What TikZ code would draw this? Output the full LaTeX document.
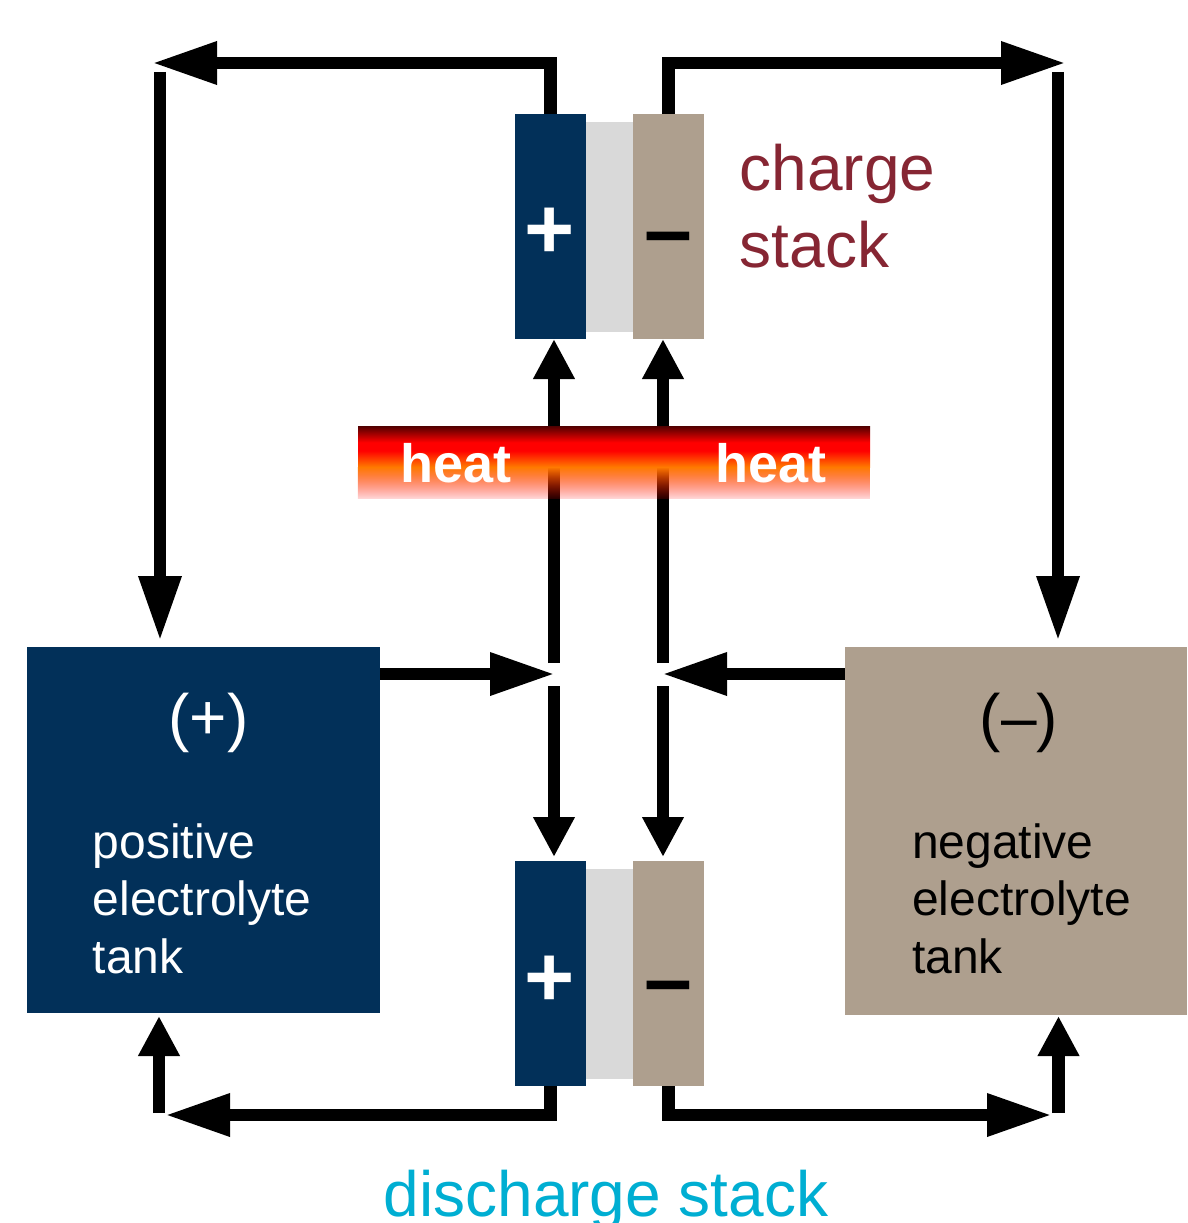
\documentclass[tikz,border=0pt]{standalone}
\usepackage{fontspec}
\setmainfont{Liberation Sans}
\usepackage{xcolor}
\usetikzlibrary{positioning, arrows.meta, fadings}

\definecolor{stackblue}{RGB}{2,48,89}
\definecolor{stacktan}{RGB}{174,159,142}
\definecolor{membranegray}{RGB}{217,217,217}
\definecolor{chargered}{RGB}{134,38,51}
\definecolor{dischargecyan}{RGB}{0,174,210}
\definecolor{heatdark}{RGB}{80,0,0}
\definecolor{heatred}{RGB}{255,0,0}
\definecolor{heatorange}{RGB}{255,122,0}

\pgfdeclareverticalshading{heatglow}{100bp}{
    color(0bp)=(heatorange); color(25bp)=(heatorange); color(45bp)=(heatred);
    color(55bp)=(heatred); color(75bp)=(heatdark); color(100bp)=(heatdark)}
\tikzfading[name=heatfade, top color=transparent!0, bottom color=transparent!85]

\begin{document}
\begin{tikzpicture}[
    x=1pt, y=-1pt,
    plate/.style={
        minimum width=71pt,
        minimum height=225pt,
        inner sep=0pt,
        outer sep=0pt
    },
    membrane/.style={
        fill=membranegray,
        minimum width=47pt,
        minimum height=210pt,
        inner sep=0pt,
        outer sep=0pt
    },
    tank/.style={inner sep=0pt, outer sep=0pt, anchor=north west},
    sign/.style={font=\fontsize{86}{86}\selectfont\bfseries, inner sep=0pt},
    tanksign/.style={font=\fontsize{64}{64}\selectfont, inner sep=0pt, anchor=base},
    tanktext/.style={font=\fontsize{48}{57.5}\selectfont, align=left, inner sep=0pt, anchor=base west},
    heattext/.style={font=\fontsize{54}{54}\selectfont\bfseries, text=white, inner sep=0pt, anchor=base},
    pipe/.style={line width=12.5pt},
    flow/.style={pipe, -{Triangle[length=65pt, width=40pt]}},
    feed/.style={pipe, -{Triangle[length=40pt, width=39pt]}}
]
\useasboundingbox (0,0) rectangle (1187,1223);

% --- tanks ---
\node[tank, fill=stackblue, minimum width=353pt, minimum height=366pt] (postank) at (27,647) {};
\node[tank, fill=stacktan, minimum width=342pt, minimum height=368pt] (negtank) at (845,647) {};

\node[tanksign, text=white] (possign) at (208.5,739) {(+)};
\node[tanktext, text=white] (poslabel) at (92.5,973) {positive\\electrolyte\\tank};
\node[tanksign] (negsign) at (1019,739) {(–)};
\node[tanktext] (neglabel) at (912,973) {negative\\electrolyte\\tank};

% --- charge stack ---
\node[plate, fill=stackblue, anchor=north west] (cplus) at (515,114) {};
\node[membrane, right=0pt of cplus] (cmem) {};
\node[plate, fill=stacktan, right=0pt of cmem] (cminus) {};
\node[sign, text=white] (cplussign) at (550,233) {+};
\node[sign] (cminussign) at (668,246) {–};

\node[font=\fontsize{64}{76.5}\selectfont, text=chargered, align=left, inner sep=0pt, anchor=base west]
    (chargelabel) at (739.5,267) {charge\\stack};

% --- discharge stack ---
\node[plate, fill=stackblue, anchor=north west] (dplus) at (515,861) {};
\node[membrane, right=0pt of dplus] (dmem) {};
\node[plate, fill=stacktan, right=0pt of dmem] (dminus) {};
\node[sign, text=white] (dplussign) at (550,981) {+};
\node[sign] (dminussign) at (668,994.5) {–};

\node[font=\fontsize{64}{64}\selectfont, text=dischargecyan, inner sep=0pt, anchor=base]
    (dischargelabel) at (606,1216.5) {discharge stack};

% --- free ends ---
\coordinate (tipNW) at (152,63);
\coordinate (tipNE) at (1066,63);
\coordinate (cornerNW) at (160,72);
\coordinate (cornerNE) at (1058,72);
\coordinate (tipSW) at (165,1115);
\coordinate (tipSE) at (1052,1115);
\coordinate (cornerSW) at (159,1113);
\coordinate (cornerSE) at (1058.5,1113);
\coordinate (mixL) at (555,674);
\coordinate (mixR) at (662,674);
\coordinate (riseL) at (554,663);
\coordinate (riseR) at (663,663);
\coordinate (dropL) at (554,686);
\coordinate (dropR) at (663,686);

% --- charge loop ---
\draw[flow] (cplus.north) |- (tipNW);
\draw[flow, shorten >=6pt] (cornerNW) -- (cornerNW |- postank.north);
\draw[flow] (cminus.north) |- (tipNE);
\draw[flow, shorten >=6pt] (cornerNE) -- (cornerNE |- negtank.north);

% --- tanks to stacks ---
\draw[flow] (postank.east |- mixL) -- (mixL);
\draw[flow] (negtank.west |- mixR) -- (mixR);
\draw[feed] (riseL) -- (riseL |- cplus.south);
\draw[feed] (riseR) -- (riseR |- cminus.south);
\draw[feed, shorten >=4pt] (dropL) -- (dropL |- dplus.north);
\draw[feed, shorten >=4pt] (dropR) -- (dropR |- dminus.north);

% --- discharge loop ---
\draw[flow] (dplus.south) |- (tipSW);
\draw[feed, shorten >=3pt] (cornerSW) -- (cornerSW |- postank.south);
\draw[flow] (dminus.south) |- (tipSE);
\draw[feed, shorten >=1pt] (cornerSE) -- (cornerSE |- negtank.south);

% --- heat ---
\shade[shading=heatglow] (358,426) rectangle (870,467);
\shade[top color=heatorange, bottom color=heatred, path fading=heatfade] (358,467) rectangle (870,498.5);
\node[heattext] (heatL) at (456,482.5) {heat};
\node[heattext] (heatR) at (771,482.5) {heat};

\end{tikzpicture}
\end{document}
